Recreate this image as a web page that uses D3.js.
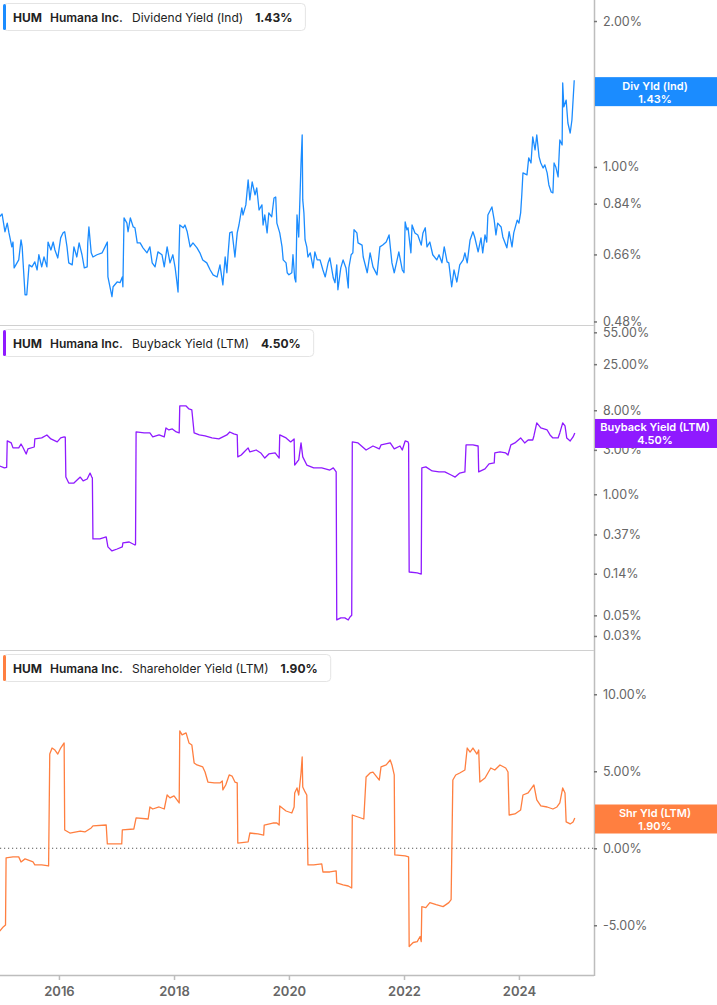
<!DOCTYPE html>
<html><head><meta charset="utf-8">
<script src="https://cdn.jsdelivr.net/npm/d3@7"></script>
<style>body{margin:0;background:#fff;font-family:Inter,"Noto Sans",sans-serif}</style>
</head><body><svg id="c" width="717" height="1005"></svg>
<script>
// ---- data (decimal year, percent) ----
const yearTicks = [2016, 2018, 2020, 2022, 2024];
const divTicks = [0.48, 0.66, 0.84, 1.00, 2.00];
const buyTicks = [0.03, 0.05, 0.14, 0.37, 1.00, 3.00, 8.00, 25.00, 55.00];
const shrTicks = [-5, 0, 5, 10];
const divLatest = 1.43, buyLatest = 4.50, shrLatest = 1.90;

const divYield = [[2014.97,0.79],[2015.01,0.80],[2015.06,0.735],[2015.10,0.766],[2015.13,0.731],[2015.18,0.684],[2015.20,0.70],[2015.22,0.619],[2015.27,0.634],[2015.30,0.643],[2015.34,0.707],[2015.36,0.684],[2015.37,0.652],[2015.41,0.545],[2015.44,0.545],[2015.48,0.628],[2015.53,0.622],[2015.58,0.637],[2015.62,0.613],[2015.65,0.659],[2015.70,0.622],[2015.74,0.652],[2015.79,0.622],[2015.81,0.70],[2015.86,0.674],[2015.90,0.70],[2015.93,0.674],[2015.98,0.649],[2016.03,0.714],[2016.07,0.731],[2016.10,0.735],[2016.14,0.684],[2016.17,0.634],[2016.23,0.628],[2016.26,0.684],[2016.31,0.652],[2016.35,0.697],[2016.40,0.659],[2016.44,0.619],[2016.49,0.622],[2016.50,0.697],[2016.52,0.752],[2016.56,0.665],[2016.59,0.652],[2016.66,0.659],[2016.75,0.665],[2016.80,0.684],[2016.84,0.70],[2016.85,0.593],[2016.92,0.54],[2016.94,0.566],[2017.01,0.579],[2017.06,0.577],[2017.10,0.593],[2017.11,0.566],[2017.13,0.785],[2017.18,0.766],[2017.20,0.735],[2017.24,0.785],[2017.29,0.752],[2017.32,0.749],[2017.36,0.697],[2017.41,0.697],[2017.46,0.681],[2017.53,0.665],[2017.58,0.684],[2017.62,0.634],[2017.67,0.622],[2017.72,0.668],[2017.79,0.659],[2017.83,0.622],[2017.88,0.684],[2017.93,0.634],[2017.98,0.659],[2018.02,0.619],[2018.05,0.579],[2018.07,0.552],[2018.10,0.759],[2018.16,0.749],[2018.19,0.759],[2018.23,0.735],[2018.28,0.684],[2018.33,0.697],[2018.40,0.681],[2018.45,0.665],[2018.50,0.643],[2018.57,0.634],[2018.63,0.613],[2018.68,0.599],[2018.75,0.593],[2018.80,0.628],[2018.85,0.571],[2018.89,0.652],[2018.92,0.605],[2018.94,0.659],[2018.97,0.731],[2019.01,0.735],[2019.06,0.652],[2019.10,0.731],[2019.13,0.759],[2019.18,0.823],[2019.20,0.796],[2019.25,0.835],[2019.29,0.94],[2019.32,0.855],[2019.36,0.931],[2019.41,0.876],[2019.44,0.905],[2019.48,0.815],[2019.53,0.835],[2019.55,0.759],[2019.58,0.796],[2019.62,0.731],[2019.65,0.804],[2019.70,0.789],[2019.74,0.863],[2019.77,0.867],[2019.79,0.766],[2019.84,0.731],[2019.88,0.684],[2019.90,0.643],[2019.95,0.634],[2019.97,0.605],[2020.00,0.599],[2020.05,0.605],[2020.07,0.659],[2020.10,0.59],[2020.12,0.579],[2020.14,0.796],[2020.17,0.717],[2020.21,1.019],[2020.23,1.164],[2020.24,0.855],[2020.26,0.804],[2020.28,0.707],[2020.31,0.684],[2020.33,0.652],[2020.37,0.665],[2020.42,0.619],[2020.45,0.668],[2020.49,0.643],[2020.54,0.643],[2020.59,0.613],[2020.63,0.593],[2020.68,0.634],[2020.71,0.649],[2020.77,0.59],[2020.80,0.577],[2020.83,0.628],[2020.85,0.558],[2020.90,0.619],[2020.94,0.643],[2020.99,0.619],[2021.03,0.563],[2021.04,0.619],[2021.08,0.659],[2021.11,0.665],[2021.13,0.742],[2021.18,0.731],[2021.20,0.697],[2021.27,0.69],[2021.29,0.652],[2021.36,0.605],[2021.41,0.665],[2021.46,0.622],[2021.53,0.599],[2021.58,0.684],[2021.63,0.69],[2021.69,0.70],[2021.74,0.724],[2021.79,0.634],[2021.83,0.605],[2021.88,0.643],[2021.91,0.668],[2021.97,0.613],[2022.00,0.605],[2022.02,0.77],[2022.05,0.742],[2022.07,0.749],[2022.12,0.665],[2022.14,0.759],[2022.19,0.731],[2022.24,0.724],[2022.30,0.69],[2022.33,0.731],[2022.37,0.749],[2022.40,0.684],[2022.45,0.70],[2022.50,0.659],[2022.57,0.643],[2022.61,0.659],[2022.66,0.634],[2022.70,0.684],[2022.75,0.637],[2022.78,0.634],[2022.83,0.566],[2022.87,0.613],[2022.92,0.579],[2022.97,0.628],[2023.03,0.643],[2023.06,0.665],[2023.10,0.634],[2023.15,0.707],[2023.20,0.735],[2023.23,0.717],[2023.29,0.668],[2023.34,0.714],[2023.37,0.665],[2023.41,0.724],[2023.44,0.70],[2023.46,0.796],[2023.53,0.827],[2023.57,0.777],[2023.60,0.724],[2023.63,0.766],[2023.69,0.752],[2023.72,0.717],[2023.79,0.681],[2023.83,0.735],[2023.88,0.684],[2023.91,0.731],[2023.97,0.777],[2024.00,0.766],[2024.03,0.804],[2024.05,0.876],[2024.07,0.972],[2024.14,0.963],[2024.17,1.044],[2024.21,1.019],[2024.24,1.153],[2024.28,1.084],[2024.31,1.164],[2024.35,1.049],[2024.38,1.019],[2024.42,0.995],[2024.45,1.01],[2024.49,0.972],[2024.52,0.918],[2024.56,0.888],[2024.59,0.884],[2024.61,1.019],[2024.64,1.0],[2024.68,0.954],[2024.71,1.137],[2024.75,1.11],[2024.76,1.49],[2024.78,1.33],[2024.82,1.374],[2024.85,1.232],[2024.89,1.175],[2024.92,1.25],[2024.96,1.51]];

const buybackYield = [[2014.97,2.01],[2015.05,1.92],[2015.09,1.95],[2015.10,3.74],[2015.17,3.56],[2015.20,3.15],[2015.30,3.15],[2015.34,3.47],[2015.37,3.22],[2015.43,2.71],[2015.46,3.07],[2015.57,3.22],[2015.58,3.93],[2015.70,4.03],[2015.79,4.34],[2015.86,3.93],[2015.97,3.65],[2016.03,4.03],[2016.09,4.13],[2016.11,4.10],[2016.12,1.53],[2016.17,1.32],[2016.26,1.32],[2016.37,1.53],[2016.42,1.39],[2016.49,1.46],[2016.54,1.69],[2016.57,1.53],[2016.58,1.50],[2016.59,0.331],[2016.71,0.331],[2016.82,0.348],[2016.85,0.272],[2016.92,0.246],[2017.01,0.258],[2017.10,0.272],[2017.11,0.300],[2017.22,0.307],[2017.32,0.285],[2017.33,0.29],[2017.34,4.67],[2017.48,4.56],[2017.58,4.56],[2017.63,4.13],[2017.74,4.34],[2017.83,4.13],[2017.86,5.16],[2017.91,4.91],[2017.97,5.03],[2018.04,4.67],[2018.09,4.56],[2018.10,8.89],[2018.21,8.89],[2018.26,8.25],[2018.31,8.05],[2018.35,4.56],[2018.44,4.34],[2018.54,4.23],[2018.66,4.03],[2018.78,3.93],[2018.85,4.13],[2018.92,4.34],[2018.97,4.67],[2019.04,4.45],[2019.10,4.34],[2019.11,2.52],[2019.17,2.64],[2019.22,2.85],[2019.29,3.15],[2019.32,2.85],[2019.43,2.99],[2019.51,2.78],[2019.58,2.45],[2019.65,2.71],[2019.76,2.78],[2019.83,2.45],[2019.84,4.34],[2019.95,4.03],[2020.03,3.65],[2020.09,3.93],[2020.10,2.06],[2020.14,2.22],[2020.17,2.34],[2020.21,3.56],[2020.24,2.52],[2020.31,2.06],[2020.43,1.92],[2020.57,1.92],[2020.71,1.82],[2020.77,1.92],[2020.82,1.74],[2020.83,0.0446],[2020.90,0.0469],[2020.97,0.0469],[2021.03,0.0446],[2021.06,0.048],[2021.09,0.05],[2021.10,3.65],[2021.20,3.56],[2021.34,2.99],[2021.46,3.30],[2021.57,3.07],[2021.60,3.39],[2021.76,3.56],[2021.83,3.07],[2021.93,3.30],[2021.97,2.99],[2022.02,3.74],[2022.07,3.65],[2022.08,3.5],[2022.09,0.146],[2022.23,0.143],[2022.30,0.139],[2022.31,1.92],[2022.38,1.97],[2022.49,1.78],[2022.61,1.74],[2022.71,1.74],[2022.82,1.61],[2022.89,1.53],[2022.97,1.69],[2023.06,1.74],[2023.08,3.39],[2023.20,3.39],[2023.29,3.30],[2023.30,1.74],[2023.41,1.87],[2023.48,2.12],[2023.57,2.17],[2023.58,2.78],[2023.67,2.85],[2023.77,2.78],[2023.81,2.64],[2023.86,3.39],[2023.93,3.56],[2024.03,4.03],[2024.10,3.56],[2024.16,3.83],[2024.24,3.83],[2024.26,4.23],[2024.31,5.84],[2024.38,5.16],[2024.49,4.91],[2024.54,4.34],[2024.59,4.03],[2024.68,4.03],[2024.71,4.56],[2024.76,5.84],[2024.80,5.42],[2024.83,4.03],[2024.89,3.74],[2024.94,4.13],[2024.97,4.56]];

const shareholderYield = [[2014.97,-5.38],[2015.03,-5.11],[2015.07,-4.98],[2015.08,-0.63],[2015.20,-0.56],[2015.30,-0.56],[2015.34,-0.89],[2015.41,-0.69],[2015.55,-0.89],[2015.58,-1.08],[2015.70,-1.08],[2015.82,-1.15],[2015.84,6.12],[2015.88,6.51],[2015.93,6.38],[2015.98,6.12],[2016.03,6.51],[2016.09,6.84],[2016.10,1.19],[2016.19,0.99],[2016.37,1.12],[2016.45,1.06],[2016.56,1.32],[2016.59,1.45],[2016.82,1.51],[2016.84,0.28],[2017.09,0.28],[2017.10,1.19],[2017.30,1.25],[2017.34,1.97],[2017.55,1.90],[2017.58,2.68],[2017.63,2.55],[2017.74,2.68],[2017.83,2.55],[2017.88,3.46],[2017.93,3.27],[2018.00,3.40],[2018.09,2.94],[2018.10,7.62],[2018.14,7.36],[2018.21,7.49],[2018.23,7.23],[2018.26,6.84],[2018.31,6.71],[2018.35,5.54],[2018.40,5.41],[2018.50,5.28],[2018.54,4.95],[2018.59,4.30],[2018.70,4.24],[2018.80,4.24],[2018.84,4.37],[2018.85,3.79],[2018.90,4.11],[2018.96,4.76],[2019.01,4.69],[2019.06,4.30],[2019.10,4.24],[2019.11,0.34],[2019.29,0.41],[2019.32,0.99],[2019.46,0.93],[2019.56,0.86],[2019.57,1.51],[2019.72,1.64],[2019.79,1.64],[2019.83,1.51],[2019.84,2.75],[2019.95,2.42],[2020.05,2.29],[2020.09,2.68],[2020.10,3.59],[2020.14,3.92],[2020.17,3.46],[2020.21,4.89],[2020.23,5.93],[2020.24,3.98],[2020.28,3.66],[2020.31,3.46],[2020.33,-1.08],[2020.43,-1.08],[2020.57,-1.02],[2020.59,-1.54],[2020.71,-1.54],[2020.82,-1.47],[2020.83,-2.25],[2020.94,-2.38],[2021.03,-2.45],[2021.09,-2.58],[2021.10,2.16],[2021.20,2.03],[2021.30,1.90],[2021.34,4.63],[2021.41,4.89],[2021.46,4.95],[2021.57,4.43],[2021.60,5.28],[2021.69,5.41],[2021.76,5.73],[2021.79,5.41],[2021.83,4.76],[2021.84,-0.43],[2022.02,-0.50],[2022.08,-0.56],[2022.09,-6.38],[2022.16,-6.12],[2022.23,-6.06],[2022.28,-5.73],[2022.30,-6.06],[2022.31,-3.79],[2022.38,-3.85],[2022.45,-3.53],[2022.56,-3.66],[2022.68,-3.79],[2022.78,-3.53],[2022.82,-3.34],[2022.85,4.43],[2022.90,4.76],[2022.97,4.89],[2023.06,5.08],[2023.10,6.51],[2023.15,6.25],[2023.20,6.51],[2023.27,6.12],[2023.30,6.38],[2023.32,4.30],[2023.41,4.56],[2023.51,5.21],[2023.58,5.08],[2023.67,5.41],[2023.77,5.21],[2023.81,4.95],[2023.83,2.16],[2023.93,2.23],[2024.03,2.49],[2024.07,3.46],[2024.16,3.59],[2024.26,4.11],[2024.31,3.14],[2024.38,2.75],[2024.49,2.68],[2024.59,2.55],[2024.66,2.68],[2024.71,2.94],[2024.76,3.92],[2024.80,3.59],[2024.82,1.71],[2024.89,1.58],[2024.94,1.71],[2024.97,1.97]];

// ---- helpers ----
function toDate(t){const y=Math.floor(t);const s=Date.UTC(y,0,1),e=Date.UTC(y+1,0,1);return new Date(s+(t-y)*(e-s));}

const svg = d3.select("#c");
const W = 594;
const x = d3.scaleUtc().domain([toDate(2014.974), toDate(2025.304)]).range([0, W]);

const panels = [
  {data: divYield, y: d3.scaleLog().domain([0.472, 2.21]).range([325, 0]), top:0, bottom:325, ticks: divTicks,
   color:"#1b8cff", name:"Dividend Yield (Ind)", short:"Div Yld (Ind)", latest: divLatest},
  {data: buybackYield, y: d3.scaleLog().domain([0.0212, 64.3]).range([650, 326]), top:326, bottom:650, ticks: buyTicks,
   color:"#8f1aff", name:"Buyback Yield (LTM)", short:"Buyback Yield (LTM)", latest: buyLatest},
  {data: shareholderYield, y: d3.scaleLinear().domain([-8.23, 12.81]).range([975, 651]), top:651, bottom:975, ticks: shrTicks,
   color:"#ff7f40", name:"Shareholder Yield (LTM)", short:"Shr Yld (LTM)", latest: shrLatest}
];

// frame lines
svg.append("line").attr("x1",W+0.5).attr("x2",W+0.5).attr("y1",0).attr("y2",976).attr("stroke","#bdbdbd").attr("stroke-width",1.5);
svg.append("line").attr("x1",0).attr("x2",W).attr("y1",975.5).attr("y2",975.5).attr("stroke","#bdbdbd").attr("stroke-width",1.5);
[325.5, 650.5].forEach(yy=>svg.append("line").attr("x1",0).attr("x2",W).attr("y1",yy).attr("y2",yy).attr("stroke","#d0d0d0"));

// zero line
svg.append("line").attr("x1",0).attr("x2",W).attr("y1",panels[2].y(0)).attr("y2",panels[2].y(0))
  .attr("stroke","#555").attr("stroke-dasharray","1.2,2.8").attr("stroke-width",1);

panels.forEach((p,i)=>{
  const cid="clip"+i;
  svg.append("clipPath").attr("id",cid).append("rect").attr("x",0).attr("y",p.top).attr("width",W).attr("height",p.bottom-p.top);
  const line = d3.line().x(d=>x(toDate(d[0]))).y(d=>p.y(d[1]));
  svg.append("path").datum(p.data).attr("clip-path",`url(#${cid})`).attr("d",line)
    .attr("fill","none").attr("stroke",p.color).attr("stroke-width",1.3).attr("stroke-linejoin","round");

  // right axis
  const ax = svg.append("g").attr("transform",`translate(${W},0)`)
    .call(d3.axisRight(p.y).tickValues(p.ticks).tickFormat(d=>d.toFixed(2)+"%").tickSize(3).tickPadding(6));
  ax.select(".domain").remove();
  ax.selectAll(".tick line").attr("stroke","#777").attr("stroke-width",1.5);
  ax.selectAll(".tick text").attr("fill","#666").style("font-size","12.5px").style("font-family","Inter,'Noto Sans',sans-serif");

  // value label box
  const cy = p.y(p.latest);
  svg.append("rect").attr("x",W+1).attr("y",cy-14.5).attr("width",717-W-1).attr("height",29).attr("fill",p.color);
  svg.append("text").attr("x",655).attr("y",cy-2).attr("text-anchor","middle").attr("fill","#fff")
    .style("font-size","11px").style("font-weight","600").text(p.short);
  svg.append("text").attr("x",655).attr("y",cy+11).attr("text-anchor","middle").attr("fill","#fff")
    .style("font-size","11px").style("font-weight","600").text(p.latest.toFixed(2)+"%");

  // legend
  const ly = p.top + 3;
  const lg = svg.append("g");
  const bg = lg.append("rect").attr("x",3.5).attr("y",ly+0.5).attr("height",27).attr("rx",4).attr("fill","#fff").attr("stroke","#e4e4e4");
  lg.append("rect").attr("x",3).attr("y",ly+1).attr("width",3).attr("height",26).attr("rx",1.5).attr("fill",p.color);
  const ty = ly+18.5;
  lg.append("text").attr("x",13).attr("y",ty).attr("fill","#222").style("font-size","12px").style("font-weight","700").text("HUM");
  lg.append("text").attr("x",50).attr("y",ty).attr("fill","#222").style("font-size","12px").style("font-weight","600").text("Humana Inc.");
  const tn = lg.append("text").attr("x",132).attr("y",ty).attr("fill","#222").style("font-size","12px").style("font-weight","400").text(p.name);
  const nEnd = 132 + tn.node().getComputedTextLength();
  const tv = lg.append("text").attr("x",nEnd+12).attr("y",ty).attr("fill","#222").style("font-size","12px").style("font-weight","700").text(p.latest.toFixed(2)+"%");
  const vEnd = nEnd+12+tv.node().getComputedTextLength();
  bg.attr("width", vEnd + 13 - 3.5);
});

// bottom axis
const bx = svg.append("g").attr("transform","translate(0,975)")
  .call(d3.axisBottom(x).tickValues(yearTicks.map(y=>toDate(y))).tickFormat(d3.utcFormat("%Y")).tickSize(5).tickPadding(7));
bx.select(".domain").remove();
bx.selectAll(".tick line").attr("stroke","#bdbdbd").attr("stroke-width",1.5);
bx.selectAll(".tick text").attr("fill","#666").style("font-size","13px").style("font-weight","600").style("font-family","Inter,'Noto Sans',sans-serif");
</script></body></html>
